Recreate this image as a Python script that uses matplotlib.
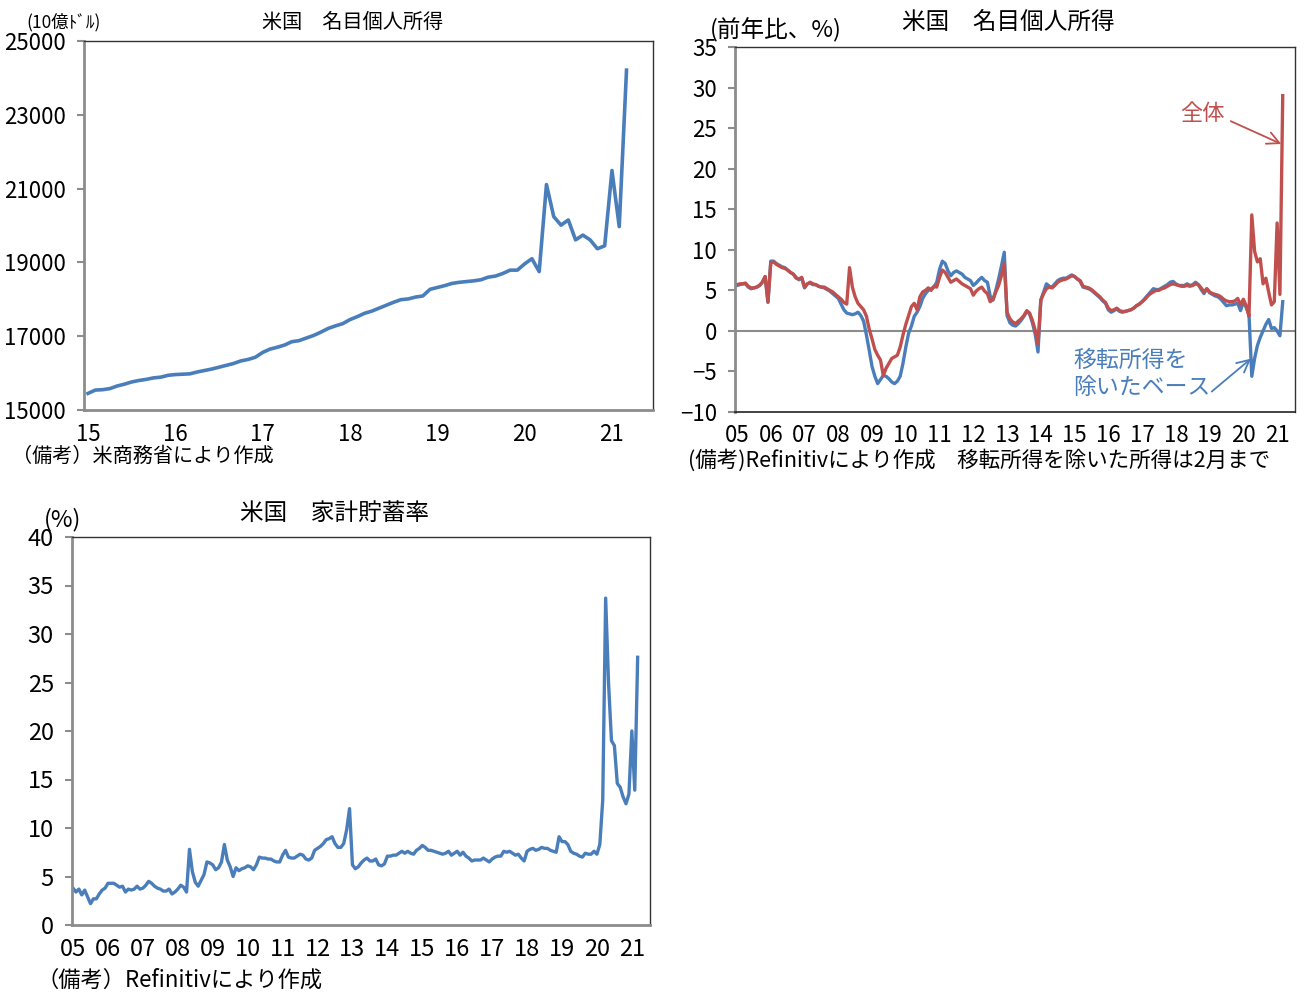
import matplotlib
matplotlib.use('Agg')
import matplotlib.pyplot as plt
import numpy as np

plt.rcParams['font.family'] = ['Liberation Sans Narrow', 'Noto Sans CJK JP', 'DejaVu Sans']

BLUE = '#4a7ebb'
RED = '#c0504d'

# US nominal personal income, $bn (Jan 2015 - Mar 2021)
income_level = [
    15450, 15540, 15550, 15580, 15650, 15700, 15760, 15800, 15830, 15870, 15890, 15940,
    15960, 15970, 15980, 16030, 16070, 16110, 16160, 16210, 16260, 16330, 16370, 16430,
    16560, 16650, 16700, 16760, 16850, 16880, 16950, 17020, 17110, 17210, 17280, 17340,
    17450, 17530, 17620, 17680, 17760, 17840, 17920, 17990, 18010, 18060, 18090, 18270,
    18320, 18370, 18430, 18460, 18480, 18500, 18530, 18600, 18630, 18700, 18790, 18790,
    18960, 19100, 18750, 21110, 20240, 20010, 20150, 19610, 19740, 19610, 19370, 19450,
    21490, 19970, 24210,
]

# YoY % (Jan 2005 - Mar 2021): total and excluding transfer receipts
yoy_total = [
    5.7, 5.8, 5.8, 5.9, 5.5, 5.3, 5.3, 5.4, 5.6, 6.0, 6.7, 3.6,
    8.4, 8.5, 8.2, 8.0, 7.8, 7.7, 7.5, 7.2, 7.0, 6.5, 6.4, 6.6,
    5.4, 5.8, 6.0, 5.8, 5.7, 5.5, 5.4, 5.4, 5.2, 5.0, 4.8, 4.5,
    4.2, 3.9, 3.5, 3.3, 7.8, 5.4, 4.2, 3.4, 3.0, 2.6, 1.8, 0.2,
    -1.0, -2.3, -3.0, -3.6, -5.5, -4.6, -4.0, -3.4, -3.2, -3.0, -2.0, -0.5,
    0.8, 1.9, 3.0, 3.4, 2.6, 4.2, 4.8, 5.0, 5.3, 5.0, 5.5, 5.4,
    6.6, 7.5, 7.2, 6.6, 6.0, 6.2, 6.4, 6.1, 5.8, 5.6, 5.4, 5.2,
    4.4, 4.9, 5.2, 5.4, 4.9, 4.6, 3.6, 3.9, 4.8, 5.6, 6.8, 8.3,
    2.3, 1.5, 1.1, 0.9, 1.2, 1.5, 1.9, 2.5, 2.2, 1.3, 0.1, -1.6,
    3.8, 4.6, 5.2, 5.4, 5.3, 5.6, 6.0, 6.2, 6.3, 6.4, 6.6, 6.8,
    6.7, 6.4, 6.2, 5.5, 5.4, 5.3, 5.1, 4.8, 4.5, 4.2, 3.8, 3.5,
    2.8, 2.5, 2.6, 2.8, 2.5, 2.4, 2.4, 2.5, 2.6, 2.8, 3.1, 3.3,
    3.6, 3.9, 4.3, 4.6, 4.8, 5.0, 5.0, 5.2, 5.3, 5.5, 5.7, 5.8,
    5.7, 5.6, 5.5, 5.5, 5.6, 5.5, 5.6, 5.8, 5.7, 5.3, 4.8, 5.2,
    4.8, 4.6, 4.5, 4.4, 4.2, 3.9, 3.7, 3.6, 3.6, 3.7, 4.0, 3.2,
    3.9, 3.1, 1.8, 14.3, 9.8, 8.5, 8.9, 5.8, 6.5, 4.8, 3.2, 3.6,
    13.3, 4.5, 29.0,
]
yoy_ex_transfer = [
    5.6, 5.7, 5.8, 5.8, 5.4, 5.2, 5.3, 5.4, 5.6, 6.0, 6.7, 3.5,
    8.6, 8.6, 8.3, 8.1, 7.9, 7.8, 7.5, 7.2, 7.0, 6.6, 6.3, 6.5,
    5.3, 5.8, 5.9, 5.7, 5.7, 5.5, 5.4, 5.3, 5.1, 4.9, 4.6, 4.3,
    4.0, 3.3, 2.6, 2.2, 2.1, 2.0, 2.1, 2.3, 1.9, 1.2, -0.5, -2.4,
    -4.4, -5.6, -6.5, -6.0, -5.5, -5.6, -5.9, -6.3, -6.5, -6.2, -5.6, -4.0,
    -2.0, -0.3, 0.6, 1.8, 2.3, 3.0, 4.0, 4.6, 5.0, 5.2, 5.4, 6.0,
    7.6, 8.6, 8.3, 7.4, 6.8, 7.2, 7.4, 7.2, 7.0, 6.6, 6.4, 6.2,
    5.6, 5.9, 6.3, 6.6, 6.2, 6.0, 4.3, 3.8, 5.0, 6.4, 8.0, 9.7,
    1.9, 1.0, 0.7, 0.6, 0.9, 1.3, 1.8, 2.4, 2.1, 1.0, -0.4, -2.6,
    3.8, 4.8, 5.8, 5.5, 5.4, 5.8, 6.2, 6.4, 6.5, 6.5, 6.7, 6.9,
    6.7, 6.4, 6.1, 5.4, 5.3, 5.2, 5.0, 4.7, 4.4, 4.1, 3.7, 3.4,
    2.6, 2.3, 2.5, 2.7, 2.4, 2.3, 2.4, 2.5, 2.6, 2.8, 3.1, 3.3,
    3.6, 4.0, 4.4, 4.8, 5.2, 5.1, 5.1, 5.3, 5.5, 5.7, 6.0, 6.1,
    5.8, 5.6, 5.6, 5.6, 5.8, 5.6, 5.7, 6.0, 5.7, 5.1, 4.6, 5.2,
    4.7, 4.5, 4.3, 4.2, 3.9, 3.5, 3.1, 3.2, 3.2, 3.3, 3.4, 2.5,
    3.6, 2.9, 2.0, -5.6, -3.4, -1.8, -0.8, 0.0, 0.8, 1.4, 0.3, 0.4,
    0.0, -0.6, 3.6,
]

# Household saving rate % (Jan 2005 - Mar 2021)
saving_rate = [
    3.8, 3.4, 3.7, 3.1, 3.6, 2.9, 2.2, 2.7, 2.7, 3.2, 3.6, 3.8,
    4.3, 4.3, 4.3, 4.1, 3.9, 4.0, 3.4, 3.7, 3.6, 3.7, 4.0, 3.7,
    3.8, 4.1, 4.5, 4.3, 4.0, 3.8, 3.7, 3.5, 3.5, 3.7, 3.2, 3.4,
    3.7, 4.1, 3.9, 3.4, 7.8, 5.5, 4.4, 4.0, 4.6, 5.2, 6.5, 6.4,
    6.2, 5.7, 5.9, 6.5, 8.3, 6.7, 6.0, 5.0, 5.9, 5.6, 5.8, 5.9,
    6.1, 6.0, 5.7, 6.2, 7.0, 6.9, 6.9, 6.8, 6.8, 6.6, 6.5, 6.5,
    7.2, 7.7, 7.0, 6.9, 6.9, 7.1, 7.3, 7.2, 6.8, 6.7, 6.9, 7.7,
    7.9, 8.1, 8.4, 8.8, 8.9, 9.1, 8.4, 8.0, 8.0, 8.4, 9.8, 12.0,
    6.2, 5.8, 6.0, 6.4, 6.7, 6.9, 6.6, 6.6, 6.8, 6.2, 6.1, 6.3,
    7.1, 7.1, 7.2, 7.2, 7.4, 7.6, 7.4, 7.6, 7.4, 7.3, 7.7, 7.9,
    8.2, 8.0, 7.7, 7.7, 7.6, 7.5, 7.4, 7.3, 7.4, 7.6, 7.2, 7.4,
    7.6, 7.2, 7.5, 7.1, 6.9, 6.6, 6.7, 6.7, 6.7, 6.9, 6.7, 6.5,
    6.8, 7.0, 7.1, 7.1, 7.6, 7.5, 7.6, 7.4, 7.2, 7.3, 6.9, 6.6,
    7.6, 7.8, 7.9, 7.7, 7.8, 8.0, 7.9, 7.9, 7.7, 7.6, 7.5, 9.1,
    8.6, 8.6, 8.3, 7.6, 7.4, 7.3, 7.1, 7.0, 7.4, 7.3, 7.3, 7.6,
    7.3, 8.3, 12.9, 33.7, 24.9, 19.0, 18.5, 14.6, 14.2, 13.2, 12.5, 13.5,
    20.0, 13.9, 27.6,
]

W, H = 1306, 998
fig = plt.figure(figsize=(W / 100, H / 100), dpi=100)


def px_axes(left, top, right, bottom):
    return fig.add_axes([left / W, 1 - bottom / H, (right - left) / W, (bottom - top) / H])


def px_text(x, y, s, **kw):
    fig.text(x / W, 1 - y / H, s, **kw)


def style_axes(ax, bottom_color='#8c8c8c', size=16):
    ax.spines['left'].set_color('#8c8c8c')
    ax.spines['left'].set_linewidth(2)
    ax.spines['bottom'].set_color(bottom_color)
    ax.spines['bottom'].set_linewidth(2)
    for s in ('top', 'right'):
        ax.spines[s].set_color('#333333')
        ax.spines[s].set_linewidth(1)
    ax.tick_params(axis='y', direction='out', length=5, color='#8c8c8c', width=1.5, labelsize=size, pad=8)
    ax.tick_params(axis='x', length=0, labelsize=size, pad=9)


def month_axis(start_year, n):
    return start_year + np.arange(n) / 12


# --- Panel 1: nominal personal income level
ax1 = px_axes(84, 41, 653, 410)
ax1.plot(month_axis(2015, len(income_level)), income_level, color=BLUE, lw=2.6)
ax1.set_ylim(15000, 25000)
ax1.set_yticks(range(15000, 25001, 2000))
ax1.set_xlim(2014.954, 2021.47)
ax1.set_xticks(range(2015, 2022))
ax1.set_xticklabels([f'{y % 100:02d}' for y in range(2015, 2022)])
style_axes(ax1)
px_text(353, 22, '米国　名目個人所得', ha='center', va='center', fontsize=14.5)
px_text(26, 22, '(10億ﾄﾞﾙ)', ha='left', va='center', fontsize=12.5)
px_text(12, 456, '（備考）米商務省により作成', ha='left', va='center', fontsize=14.5)

# --- Panel 2: YoY growth
ax2 = px_axes(735, 47, 1295, 412)
x2 = month_axis(2005, len(yoy_total))
ax2.axhline(0, color='#8c8c8c', lw=1.5)
ax2.plot(x2, yoy_ex_transfer, color=BLUE, lw=2.4)
ax2.plot(x2, yoy_total, color=RED, lw=2.4)
ax2.set_ylim(-10, 35)
ax2.set_yticks(range(-10, 36, 5))
ax2.set_xlim(2004.94, 2021.53)
ax2.set_xticks(range(2005, 2022))
ax2.set_xticklabels([f'{y % 100:02d}' for y in range(2005, 2022)])
style_axes(ax2, bottom_color='#222222')
ax2.spines['bottom'].set_linewidth(1.2)
ax2.text(2018.78, 26.8, '全体', color=RED, fontsize=16, ha='center', va='center')
ax2.annotate('', xy=(2021.2, 22.9), xytext=(2019.55, 26.0),
             arrowprops=dict(arrowstyle='->', color=RED, lw=1.3, mutation_scale=22))
ax2.text(2014.96, -5.3, '移転所得を\n除いたベース', color=BLUE, fontsize=16.5,
         ha='left', va='center', linespacing=1.25)
ax2.annotate('', xy=(2020.29, -3.2), xytext=(2019.0, -7.7),
             arrowprops=dict(arrowstyle='->', color=BLUE, lw=1.3, mutation_scale=22))
px_text(1008, 22, '米国　名目個人所得', ha='center', va='center', fontsize=17)
px_text(710, 30, '(前年比、%)', ha='left', va='center', fontsize=17)
px_text(688, 460, '(備考)Refinitivにより作成　移転所得を除いた所得は2月まで', ha='left', va='center', fontsize=15.5)

# --- Panel 3: household saving rate
ax3 = px_axes(72, 537, 650, 925)
ax3.plot(month_axis(2005, len(saving_rate)), saving_rate, color=BLUE, lw=2.4)
ax3.set_ylim(0, 40)
ax3.set_yticks(range(0, 41, 5))
ax3.set_xlim(2004.97, 2021.52)
ax3.set_xticks(range(2005, 2022))
ax3.set_xticklabels([f'{y % 100:02d}' for y in range(2005, 2022)])
style_axes(ax3, size=17)
px_text(335, 513, '米国　家計貯蓄率', ha='center', va='center', fontsize=17)
px_text(44, 520, '(%)', ha='left', va='center', fontsize=17)
px_text(36, 980, '（備考）Refinitivにより作成', ha='left', va='center', fontsize=16)

fig.savefig('out.png', dpi=100)
